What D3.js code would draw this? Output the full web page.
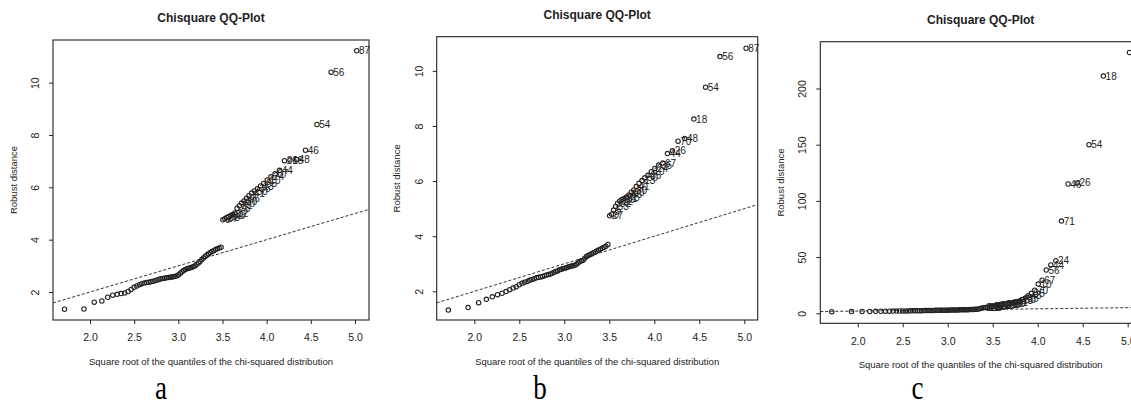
<!DOCTYPE html>
<html><head><meta charset="utf-8">
<script src="https://cdn.jsdelivr.net/npm/d3@7"></script>
<style>body{margin:0;background:#fff;} svg{display:block;}</style>
</head><body>
<script>
// ---- data ----
const quantiles = [
 1.711,1.931,2.048,2.134,2.200,2.258,2.308,2.352,2.393,2.431,
 2.466,2.499,2.530,2.559,2.587,2.614,2.640,2.666,2.690,2.713,
 2.737,2.759,2.781,2.803,2.825,2.846,2.866,2.886,2.906,2.926,
 2.946,2.965,2.985,3.003,3.023,3.042,3.060,3.079,3.098,3.116,
 3.135,3.154,3.172,3.191,3.209,3.228,3.246,3.266,3.284,3.304,
 3.323,3.342,3.362,3.381,3.401,3.421,3.441,3.462,3.484,3.504,
 3.526,3.548,3.570,3.593,3.617,3.641,3.665,3.691,3.717,3.744,
 3.772,3.800,3.830,3.863,3.895,3.930,3.967,4.006,4.049,4.095,
 4.146,4.202,4.264,4.338,4.44,4.57,4.73,5.02];
const distA = [
 1.34,1.35,1.61,1.66,1.80,1.88,1.91,1.94,1.96,2.02,
 2.10,2.18,2.23,2.28,2.32,2.34,2.36,2.37,2.39,2.41,
 2.43,2.46,2.48,2.51,2.52,2.53,2.54,2.55,2.56,2.57,
 2.58,2.60,2.62,2.66,2.72,2.77,2.82,2.86,2.89,2.91,
 2.93,2.95,2.97,3.00,3.06,3.11,3.17,3.24,3.30,3.36,
 3.41,3.46,3.51,3.55,3.58,3.62,3.65,3.68,3.71,4.76,
 4.80,4.85,4.88,4.92,4.96,5.02,5.20,5.30,5.40,5.48,
 5.58,5.68,5.78,5.86,5.95,6.05,6.15,6.28,6.40,6.52,
 6.65,7.02,7.04,7.06,7.42,8.40,10.40,11.22];
const distB = [
 1.32,1.41,1.59,1.71,1.80,1.88,1.93,1.99,2.06,2.12,
 2.17,2.24,2.29,2.33,2.36,2.40,2.43,2.46,2.49,2.51,
 2.52,2.54,2.57,2.59,2.61,2.63,2.66,2.69,2.72,2.74,
 2.78,2.80,2.82,2.84,2.86,2.88,2.90,2.92,2.93,2.95,
 2.98,3.03,3.08,3.11,3.13,3.20,3.26,3.30,3.33,3.36,
 3.40,3.43,3.46,3.50,3.53,3.56,3.60,3.64,3.70,4.74,
 4.80,4.95,5.08,5.20,5.28,5.33,5.37,5.42,5.50,5.60,
 5.68,5.80,5.92,6.02,6.12,6.21,6.34,6.46,6.58,6.66,
 7.00,7.10,7.45,7.55,8.25,9.41,10.52,10.82];
const distC = [
 1.4,1.5,1.6,1.7,1.75,1.8,1.85,1.9,1.95,2.0,
 2.05,2.1,2.1,2.15,2.2,2.2,2.25,2.3,2.3,2.35,
 2.4,2.4,2.45,2.5,2.5,2.55,2.6,2.6,2.65,2.7,
 2.7,2.75,2.8,2.8,2.85,2.9,2.9,2.95,3.0,3.0,
 3.05,3.1,3.1,3.15,3.2,3.25,3.3,3.35,3.4,3.5,
 3.6,3.8,4.3,4.6,4.9,5.1,5.3,5.5,5.8,6.1,
 6.4,6.7,7.0,7.3,7.6,7.9,8.3,8.7,9.1,9.6,
 10.3,11.2,12.2,13.6,15.5,17.8,20.5,26.0,29.5,38.5,
 43.0,46.8,82.0,115.0,116.0,150.0,211.0,232.0];
// labels of the largest distances (aligned with the last points)
const idsA = ["9","27","33","5","62","39","12","75","21","80","30","66","7","41","50","35","13","85","10","24","67","44","26","18","48","46","54","56","87"];
const idsB = ["27","9","5","33","62","12","39","21","75","66","80","30","41","7","13","50","85","10","24","35","67","44","26","70","48","18","54","56","87"];
const idsC = ["2","61","16","39","9","33","5","27","62","12","21","75","66","80","30","41","7","13","50","85","48","35","70","10","67","56","44","24","71","46","26","54","18","87"];
const xTicks = [2.0,2.5,3.0,3.5,4.0,4.5,5.0];
const yTicksAB = [2,4,6,8,10];
const yTicksC = [0,50,100,150,200];
const panelLetters = ["a","b","c"];
const titleText = "Chisquare QQ-Plot";
const xLabel = "Square root of the quantiles of the chi-squared distribution";
const yLabel = "Robust distance";

// ---- drawing ----
const W = 1131, H = 407;
const INK = "#222";
const SANS = "'Liberation Sans', Arial, Helvetica, sans-serif";
const svg = d3.select("body").append("svg").attr("width", W).attr("height", H);
svg.append("rect").attr("width", W).attr("height", H).attr("fill", "#fff");

const panels = [
  {dist: distA, ids: idsA, yTicks: yTicksAB, box: [53, 369, 40, 320], xDom: [1.581, 5.159], yDom: [0.93, 11.63], titleY: 22, letterX: 161},
  {dist: distB, ids: idsB, yTicks: yTicksAB, box: [436.7, 757.7, 36.7, 320], xDom: [1.582, 5.149], yDom: [0.96, 11.24], titleY: 19, letterX: 540},
  {dist: distC, ids: idsC, yTicks: yTicksC, box: [820.3, 1141, 41.7, 323.3], xDom: [1.584, 5.148], yDom: [-8.9, 241.6], titleY: 24, letterX: 917.5}
];

panels.forEach((p, k) => {
  const [L, R, T, B] = p.box;
  const x = d3.scaleLinear().domain(p.xDom).range([L, R]);
  const y = d3.scaleLinear().domain(p.yDom).range([B, T]);
  const g = svg.append("g");
  const clipId = "clip" + k;
  svg.append("clipPath").attr("id", clipId).append("rect")
    .attr("x", L).attr("y", T).attr("width", R - L).attr("height", B - T);

  // reference line y = x
  g.append("line").attr("clip-path", `url(#${clipId})`)
    .attr("x1", x(p.xDom[0])).attr("y1", y(p.xDom[0]))
    .attr("x2", x(p.xDom[1])).attr("y2", y(p.xDom[1]))
    .attr("stroke", "#333").attr("stroke-width", 1).attr("stroke-dasharray", "3,2");

  const pts = quantiles.map((q, i) => ({q, d: p.dist[i], i}));
  g.selectAll("circle.pt").data(pts).enter().append("circle")
    .attr("cx", d => x(d.q)).attr("cy", d => y(d.d)).attr("r", 2.2)
    .attr("fill", "none").attr("stroke", INK).attr("stroke-width", 1.1);

  const off = quantiles.length - p.ids.length;
  g.selectAll("text.lab").data(pts.slice(off)).enter().append("text")
    .attr("x", d => x(d.q) + 2.2).attr("y", d => y(d.d) + 3.6)
    .attr("font-family", SANS).attr("font-size", 10).attr("fill", INK)
    .text(d => p.ids[d.i - off]);

  // box
  g.append("rect").attr("x", L).attr("y", T).attr("width", R - L).attr("height", B - T)
    .attr("fill", "none").attr("stroke", INK).attr("stroke-width", 1.1);

  // x axis
  const ax = g.append("g").attr("transform", `translate(0,${B})`)
    .call(d3.axisBottom(x).tickValues(xTicks).tickFormat(d3.format(".1f")).tickSize(4).tickSizeOuter(0));
  ax.select(".domain").remove();
  ax.selectAll("line").attr("stroke", INK);
  ax.selectAll("text").attr("y", 14).attr("dy", "0.71em")
    .attr("font-family", SANS).attr("font-size", 10.5).attr("fill", INK);

  // y axis
  const ay = g.append("g").attr("transform", `translate(${L},0)`)
    .call(d3.axisLeft(y).tickValues(p.yTicks).tickSize(4).tickSizeOuter(0));
  ay.select(".domain").remove();
  ay.selectAll("line").attr("stroke", INK);
  ay.selectAll("text").attr("transform", "rotate(-90)").attr("x", 0).attr("y", -14)
    .attr("dy", 0).attr("text-anchor", "middle")
    .attr("font-family", SANS).attr("font-size", 10.5).attr("fill", INK);

  // titles
  g.append("text").attr("x", (L + R) / 2).attr("y", p.titleY).attr("text-anchor", "middle")
    .attr("font-family", SANS).attr("font-weight", "bold").attr("font-size", 12).attr("fill", INK)
    .text(titleText);
  g.append("text").attr("x", (L + R) / 2).attr("y", B + 45).attr("text-anchor", "middle")
    .attr("font-family", SANS).attr("font-size", 9.5).attr("fill", INK).text(xLabel);
  g.append("text").attr("transform", `translate(${L - 36.5},${(T + B) / 2}) rotate(-90)`)
    .attr("text-anchor", "middle")
    .attr("font-family", SANS).attr("font-size", 9.5).attr("fill", INK).text(yLabel);

  // panel letter
  g.append("text").attr("transform", `translate(${p.letterX},399) scale(1,1.25)`)
    .attr("text-anchor", "middle")
    .attr("font-family", "'Liberation Serif', 'Times New Roman', serif").attr("font-size", 27)
    .attr("fill", "#000").text(panelLetters[k]);
});
</script>
</body></html>
